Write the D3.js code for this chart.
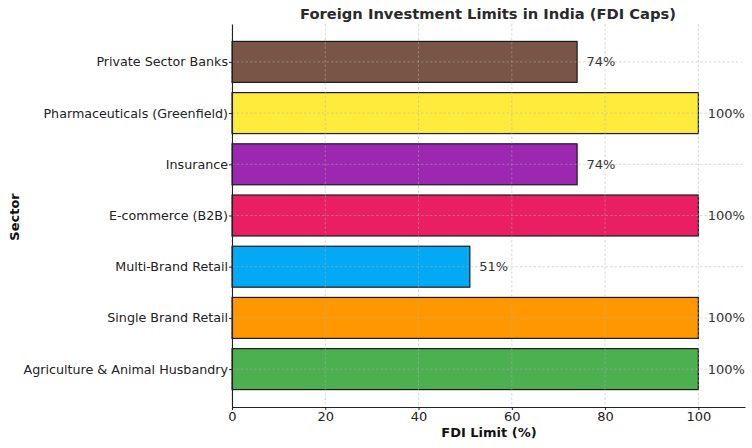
<!DOCTYPE html>
<html><head><meta charset="utf-8">
<script src="https://cdn.jsdelivr.net/npm/d3@7"></script>
<style>body{margin:0;background:#fff}svg{display:block}text{font-family:"DejaVu Sans",sans-serif}</style>
</head><body>
<svg id="c" width="752" height="448"></svg>
<script>
const categories = ["Agriculture & Animal Husbandry","Single Brand Retail","Multi-Brand Retail","E-commerce (B2B)","Insurance","Pharmaceuticals (Greenfield)","Private Sector Banks"];
const values = [100,100,51,100,74,100,74];
const colors = ["#4CAF50","#FF9800","#03A9F4","#E91E63","#9C27B0","#FFEB3B","#795548"];
const xTicks = [0,20,40,60,80,100];

const svg = d3.select("#c");
const L=232, R=745, T=24, B=407;
const x = d3.scaleLinear().domain([0,110]).range([L,R]);
const y = d3.scaleLinear().domain([-0.74,6.74]).range([B,T]);
const bh = y(0)-y(0.8);

// bars
svg.selectAll("rect.bar").data(categories).join("rect")
  .attr("x",x(0)).attr("y",(d,i)=>y(i+0.4)).attr("width",(d,i)=>x(values[i])-x(0)).attr("height",bh)
  .attr("fill",(d,i)=>colors[i]).attr("stroke","#1a1a1a").attr("stroke-width",1.2);

// grid
const g = svg.append("g");
xTicks.forEach(t=>g.append("line").attr("x1",x(t)).attr("x2",x(t)).attr("y1",T).attr("y2",B)
  .attr("stroke","#b0b0b0").attr("stroke-opacity",0.6).attr("stroke-dasharray","2.5,2").attr("stroke-width",0.8));
categories.forEach((c,i)=>g.append("line").attr("x1",L).attr("x2",R).attr("y1",y(i)).attr("y2",y(i))
  .attr("stroke","#b0b0b0").attr("stroke-opacity",0.6).attr("stroke-dasharray","2.5,2").attr("stroke-width",0.8));

// axes
const xa = svg.append("g").attr("transform",`translate(0,${B})`)
  .call(d3.axisBottom(x).tickValues(xTicks).tickSize(3).tickPadding(2).tickSizeOuter(0));
xa.select(".domain").attr("stroke","#222").attr("stroke-width",1.1);
xa.selectAll(".tick line").attr("stroke","#222");
xa.selectAll("text").attr("font-size",13).attr("fill","#222");

const ya = svg.append("g").attr("transform",`translate(${L},0)`)
  .call(d3.axisLeft(y).tickValues(d3.range(categories.length)).tickFormat(i=>categories[i]).tickSize(3).tickPadding(1).tickSizeOuter(0));
ya.select(".domain").attr("stroke","#222").attr("stroke-width",1.1);
ya.selectAll(".tick line").attr("stroke","#222");
ya.selectAll("text").attr("font-size",12.7).attr("fill","#222");

// value labels
svg.selectAll("text.val").data(values).join("text")
  .attr("x",d=>x(d+2)).attr("y",(d,i)=>y(i)).attr("dy","0.35em")
  .attr("font-size",13).attr("fill","#333").text(d=>d+"%");

// titles
svg.append("text").attr("x",488).attr("y",19).attr("text-anchor","middle")
  .attr("font-size",14.7).attr("font-weight","bold").attr("fill","#2a2a2a")
  .text("Foreign Investment Limits in India (FDI Caps)");
svg.append("text").attr("x",489).attr("y",437).attr("text-anchor","middle")
  .attr("font-size",13).attr("font-weight","bold").attr("fill","#111").text("FDI Limit (%)");
svg.append("text").attr("transform",`translate(19,217) rotate(-90)`).attr("text-anchor","middle")
  .attr("font-size",13).attr("font-weight","bold").attr("fill","#111").text("Sector");
</script>
</body></html>
